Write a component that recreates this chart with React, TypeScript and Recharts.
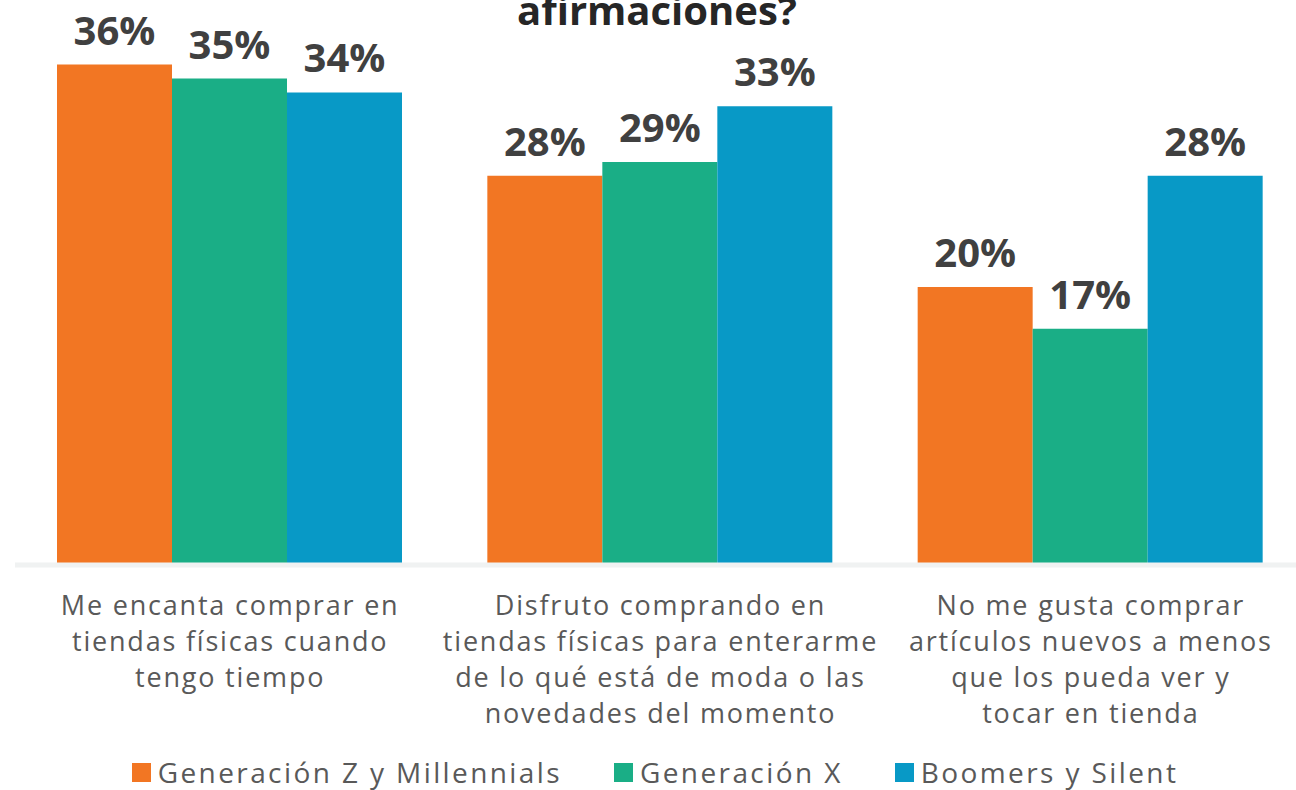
import { Bar, BarChart, LabelList, XAxis, YAxis } from "recharts";

const categories = [
  "Me encanta comprar en tiendas físicas cuando tengo tiempo",
  "Disfruto comprando en tiendas físicas para enterarme de lo qué está de moda o las novedades del momento",
  "No me gusta comprar artículos nuevos a menos que los pueda ver y tocar en tienda",
];
const categoryLines = [
  ["Me encanta comprar en", "tiendas físicas cuando", "tengo tiempo"],
  ["Disfruto comprando en", "tiendas físicas para enterarme", "de lo qué está de moda o las", "novedades del momento"],
  ["No me gusta comprar", "artículos nuevos a menos", "que los pueda ver y", "tocar en tienda"],
];
const genZMillennials = [36, 28, 20];
const genX = [35, 29, 17];
const boomersSilent = [34, 33, 28];

const seriesNames = ["Generación Z y Millennials", "Generación X", "Boomers y Silent"];
const seriesColors = ["#F27623", "#1AAE86", "#0899C6"];

const data = categories.map((name, i) => ({
  name,
  gz: genZMillennials[i],
  gx: genX[i],
  bs: boomersSilent[i],
}));

const FONT = "'Open Sans', 'DejaVu Sans', sans-serif";

function CategoryTick(props: any) {
  const { x, y, index } = props;
  const lines = categoryLines[index] ?? [];
  return (
    <text x={x} y={y} textAnchor="middle" fill="#595959" fontSize={27} letterSpacing={1.8} fontFamily={FONT}>
      {lines.map((l, i) => (
        <tspan key={i} x={x} dy={i === 0 ? 42 : 36}>{l}</tspan>
      ))}
    </text>
  );
}

export default function App() {
  const keys = ["gz", "gx", "bs"];
  return (
    <div style={{ position: "relative", width: 1296, height: 790, overflow: "hidden", background: "#fff" }}>
      <style>{"body{margin:0;overflow:hidden}"}</style>
      <BarChart
        width={1310}
        height={750}
        data={data}
        margin={{ top: 9, right: 4, left: 15, bottom: 0 }}
        barCategoryGap={42}
        barGap={0}
      >
        <text x={657} y={25} textAnchor="middle" fill="#262626" fontSize={40} fontWeight={700} fontFamily={FONT}>
          afirmaciones?
        </text>
        <XAxis
          dataKey="name"
          interval={0}
          tickLine={false}
          axisLine={{ stroke: "#F0F2F2", strokeWidth: 5 }}
          height={185}
          tick={<CategoryTick />}
        />
        <YAxis hide domain={[0, 40]} />
        {keys.map((k, i) => (
          <Bar key={k} dataKey={k} name={seriesNames[i]} fill={seriesColors[i]} isAnimationActive={false}>
            <LabelList
              dataKey={k}
              position="top"
              offset={20}
              formatter={(v: any) => `${v}%`}
              fill="#404040"
              fontSize={40}
              fontWeight={700}
              fontFamily={FONT}
            />
          </Bar>
        ))}
      </BarChart>
      <div
        style={{
          position: "absolute",
          top: 752,
          left: 0,
          width: 1310,
          display: "flex",
          justifyContent: "center",
          gap: 52,
          fontFamily: FONT,
          fontSize: 28,
          letterSpacing: 2.4,
          color: "#595959",
          lineHeight: "40px",
        }}
      >
        {seriesNames.map((n, i) => (
          <div key={n} style={{ display: "flex", alignItems: "center" }}>
            <span style={{ display: "inline-block", width: 19, height: 19, background: seriesColors[i], marginRight: 7 }} />
            <span>{n}</span>
          </div>
        ))}
      </div>
    </div>
  );
}
